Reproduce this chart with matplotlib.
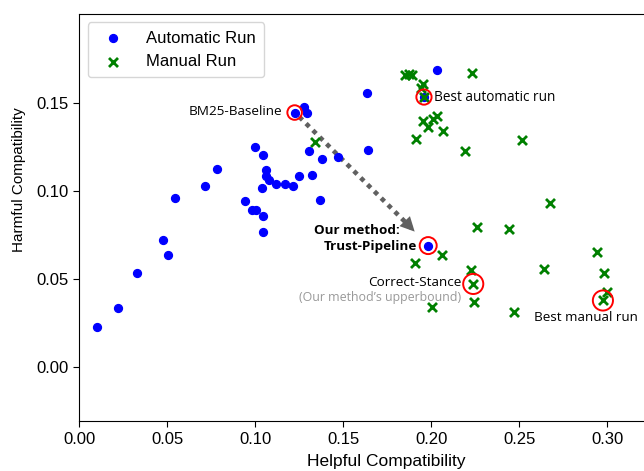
import matplotlib
matplotlib.use('Agg')
import matplotlib.pyplot as plt

plt.rcParams['font.family'] = ['Liberation Sans', 'DejaVu Sans']

# automatic runs (helpful, harmful)
auto_x = [0.0101, 0.0222, 0.0326, 0.0477, 0.0504, 0.0544, 0.0716, 0.0782, 0.0941, 0.0983,
          0.1002, 0.0998, 0.1044, 0.1036, 0.1045, 0.1044, 0.1063, 0.1059, 0.1081, 0.1118,
          0.1170, 0.1214, 0.1250, 0.1224, 0.1277, 0.1292, 0.1305, 0.1322, 0.1377, 0.1369,
          0.1472, 0.1635, 0.1642, 0.1959, 0.2031, 0.1983]
auto_y = [0.0223, 0.0332, 0.0534, 0.0717, 0.0632, 0.0959, 0.1028, 0.1123, 0.0941, 0.0892,
          0.0890, 0.1247, 0.1200, 0.1014, 0.0858, 0.0764, 0.1115, 0.1081, 0.1061, 0.1040,
          0.1040, 0.1025, 0.1084, 0.1444, 0.1474, 0.1439, 0.1228, 0.1091, 0.1180, 0.0949,
          0.1191, 0.1553, 0.1233, 0.1531, 0.1684, 0.0688]

# manual runs
manual_x = [0.1853, 0.1873, 0.1890, 0.2230, 0.1953, 0.1941, 0.1959, 0.2032, 0.2010, 0.1955,
            0.1983, 0.2068, 0.1915, 0.2192, 0.2514, 0.2674, 0.1339, 0.2258, 0.2443, 0.2059,
            0.1907, 0.2226, 0.2239, 0.2244, 0.2002, 0.2473, 0.2943, 0.2642, 0.2981, 0.2997,
            0.2976]
manual_y = [0.1655, 0.1663, 0.1657, 0.1670, 0.1606, 0.1584, 0.1532, 0.1424, 0.1407, 0.1396,
            0.1360, 0.1341, 0.1292, 0.1226, 0.1286, 0.0928, 0.1278, 0.0795, 0.0781, 0.0635,
            0.0588, 0.0549, 0.0470, 0.0369, 0.0338, 0.0313, 0.0653, 0.0553, 0.0531, 0.0422,
            0.0376]

# highlighted runs: BM25, best auto, trust-pipeline, correct-stance, best manual
hl_x = [0.1224, 0.1959, 0.1983, 0.2239, 0.2976]
hl_y = [0.1444, 0.1532, 0.0688, 0.0470, 0.0376]
hl_size = [110, 120, 150, 210, 210]

fig = plt.figure(figsize=(6.44, 4.71), dpi=100)
ax = fig.add_axes([0.1231, 0.1068, 0.959, 0.8635])

ax.scatter(auto_x, auto_y, s=32, color='blue', label='Automatic Run', zorder=3)
ax.scatter(manual_x, manual_y, s=42, marker='x', color='green', linewidths=2,
           label='Manual Run', zorder=4)
ax.scatter(hl_x, hl_y, s=hl_size, facecolors='none', edgecolors='red',
           linewidths=1.4, zorder=5)

# arrow from baseline to our method
ax.plot([0.1250, 0.1888], [0.1420, 0.0787], color='#606060', lw=3.3,
        linestyle=(0, (1, 1.1)), zorder=2)
ax.annotate('', xy=(0.1917, 0.0756), xytext=(0.1878, 0.0797),
            arrowprops=dict(arrowstyle='-|>', color='#606060', mutation_scale=26,
                            lw=0), zorder=2)

afont = ['Open Sans', 'DejaVu Sans']
ax.text(0.1152, 0.1450, 'BM25-Baseline', ha='right', va='center', fontsize=9.7, family=afont)
ax.text(0.2015, 0.1532, 'Best automatic run', ha='left', va='center', fontsize=9.8, family=afont)
ax.text(0.1822, 0.0771, 'Our method:', ha='right', va='center', fontsize=9.7,
        fontweight='bold', family=afont)
ax.text(0.1919, 0.0680, 'Trust-Pipeline', ha='right', va='center', fontsize=9.7,
        fontweight='bold', family=afont)
ax.text(0.2173, 0.0477, 'Correct-Stance', ha='right', va='center', fontsize=9.7, family=afont)
ax.text(0.2173, 0.0392, "(Our method\u2019s upperbound)", ha='right', va='center',
        fontsize=8.9, color='#999999', family=afont)
ax.text(0.2585, 0.0278, 'Best manual run', ha='left', va='center', fontsize=9.7, family=afont)

ax.set_xlim(0, 0.351)
ax.set_ylim(-0.0307, 0.2004)
ax.set_xticks([0.00, 0.05, 0.10, 0.15, 0.20, 0.25, 0.30])
ax.set_yticks([0.00, 0.05, 0.10, 0.15])
ax.tick_params(labelsize=12, length=4.5)
ax.set_xlabel('Helpful Compatibility', fontsize=12.5)
ax.set_ylabel('Harmful Compatibility', fontsize=11)
ax.xaxis.set_label_coords(0.4975, -0.083)
ax.yaxis.set_label_coords(-0.087, 0.592)

ax.legend(loc='upper left', fontsize=12, handletextpad=1.0, borderpad=0.5)

plt.savefig('out.png', dpi=100)
